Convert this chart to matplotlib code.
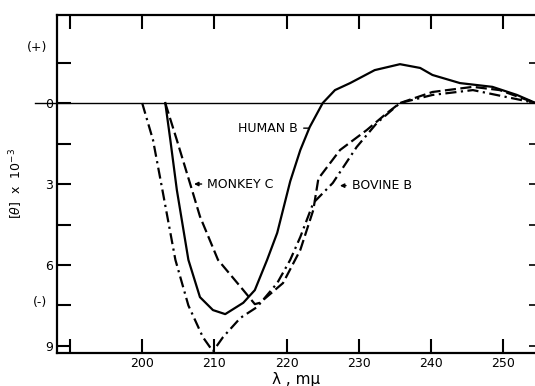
import numpy as np
import matplotlib
matplotlib.use('Agg')
import matplotlib.pyplot as plt
from matplotlib.transforms import blended_transform_factory

plt.rcParams['font.family'] = ['DejaVu Sans']

# wavelength (m mu) and [theta] x 10^-3 (positive up)
wl_human = [203.2, 203.9, 204.8, 206.4, 208.0, 209.8, 211.5, 214.0, 215.6, 217.3, 218.7,
            220.5, 221.9, 223.2, 225.0, 226.7, 228.8, 232.2, 235.7, 238.5, 240.2, 244.0,
            248.5, 251.9, 254.5]
th_human = [0, -1.37, -3.22, -5.81, -7.19, -7.67, -7.82, -7.4, -6.93, -5.81, -4.81,
            -2.9, -1.74, -0.89, 0, 0.48, 0.74, 1.22, 1.44, 1.30, 1.04, 0.74,
            0.6, 0.3, 0]

wl_monkey = [203.2, 204.8, 206.9, 208.0, 210.5, 214.0, 215.6, 216.3, 219.5, 221.9, 223.7,
             224.4, 227.4, 231.1, 233.9, 235.7, 240.2, 245.8, 249.5, 254.5]
th_monkey = [0, -1.37, -3.22, -4.2, -5.81, -6.93, -7.45, -7.4, -6.67, -5.44, -3.96,
             -2.8, -1.74, -1.0, -0.37, 0, 0.41, 0.6, 0.48, 0]

wl_bovine = [200.0, 201.5, 202.8, 204.6, 206.4, 208.4, 209.8, 211.2, 213.6, 215.9, 218.7,
             220.5, 221.9, 223.7, 226.4, 229.7, 232.5, 235.7, 240.2, 245.8, 250.5, 254.5]
th_bovine = [0, -1.37, -3.22, -5.81, -7.5, -8.67, -9.2, -8.67, -7.96, -7.56, -6.67,
             -5.81, -4.96, -3.7, -2.96, -1.63, -0.74, 0, 0.3, 0.48, 0.22, 0]

x_ticks = [190, 200, 210, 220, 230, 240, 250]
x_labels = ['', '200', '210', '220', '230', '240', '250']
y_ticks = [1.5, 0, -1.5, -3, -4.5, -6, -7.5, -9]
y_labels = ['', '0', '', '3', '', '6', '', '9']

xmin, xmax = 188.2, 254.4
ymin, ymax = -9.26, 3.26

fig = plt.figure(figsize=(5.35, 3.86), dpi=100)
ax = fig.add_axes([0.1065, 0.0855, 1.0 - 0.1065, 0.961 - 0.0855])

lw = 1.6
ax.plot(wl_human, th_human, color='black', lw=lw)
l2, = ax.plot(wl_monkey, th_monkey, color='black', lw=lw)
l2.set_dashes([5, 2])
l3, = ax.plot(wl_bovine, th_bovine, color='black', lw=lw)
l3.set_dashes([5, 2, 1, 2])

# zero line runs past the left spine
ax.plot([185.2, xmax], [0, 0], color='black', lw=1.0, clip_on=False)

ax.set_xlim(xmin, xmax)
ax.set_ylim(ymin, ymax)

ax.set_xticks(x_ticks)
ax.set_xticklabels(x_labels)
ax.set_yticks(y_ticks)
ax.set_yticklabels(y_labels)
ax.tick_params(direction='in', length=10, width=1.5, labelsize=9,
               top=True, right=False, pad=3)
for s in ['left', 'bottom', 'top']:
    ax.spines[s].set_linewidth(1.6)
ax.spines['right'].set_visible(False)

# short ticks on the right edge
ax2 = ax.twinx()
ax2.set_ylim(ymin, ymax)
ax2.set_yticks(y_ticks)
ax2.set_yticklabels([])
ax2.tick_params(direction='in', length=4, width=1.2)
for s in ax2.spines.values():
    s.set_visible(False)

trans = blended_transform_factory(ax.transAxes, ax.transData)
ax.text(-0.02, 2.07, '(+)', transform=trans, ha='right', va='center', fontsize=9)
ax.text(-0.02, -7.4, '(-)', transform=trans, ha='right', va='center', fontsize=9)

ax.set_ylabel(r'$[\theta]$  x  10$^{-3}$', fontsize=9, labelpad=14)
ax.set_xlabel('λ , mμ', fontsize=11, labelpad=1)

# curve labels
ax.annotate('HUMAN B', xy=(223.5, -0.93), xytext=(221.6, -0.93),
            ha='right', va='center', fontsize=9,
            arrowprops=dict(arrowstyle='-', color='black', lw=1))
ax.annotate('MONKEY C', xy=(206.8, -3.0), xytext=(209.0, -3.0),
            ha='left', va='center', fontsize=9,
            arrowprops=dict(arrowstyle='-|>', color='black', lw=1, mutation_scale=6))
ax.annotate('BOVINE B', xy=(227.0, -3.06), xytext=(229.0, -3.06),
            ha='left', va='center', fontsize=9,
            arrowprops=dict(arrowstyle='-|>', color='black', lw=1, mutation_scale=6))

fig.savefig('out.png', dpi=100)
